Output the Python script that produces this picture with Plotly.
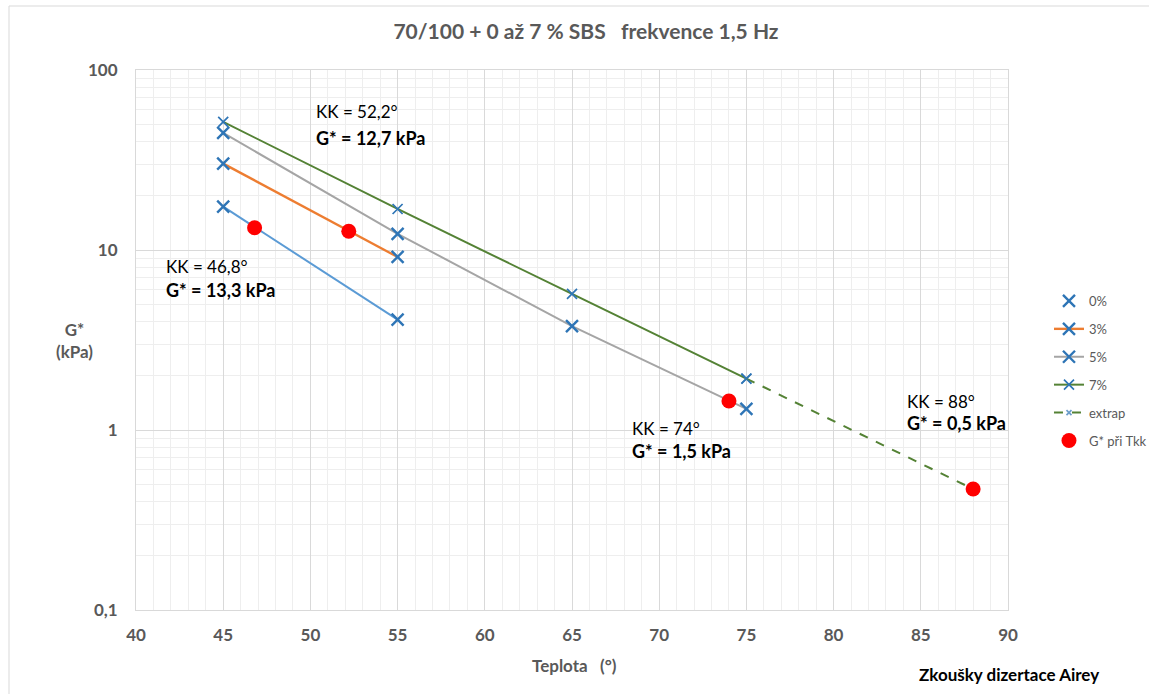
import plotly.graph_objects as go

# ---- data ----
t_0 = [45, 55]
g_0 = [17.4, 4.1]
t_3 = [45, 55]
g_3 = [30.2, 9.15]
t_5 = [45, 55, 65, 75]
g_5 = [44.7, 12.3, 3.78, 1.31]
t_7 = [45, 55, 65, 75]
g_7 = [51.5, 16.9, 5.7, 1.93]
t_ex = [75, 88]
g_ex = [1.93, 0.47]
t_kk = [46.8, 52.2, 74, 88]
g_kk = [13.3, 12.7, 1.45, 0.47]

x_ticks = [40, 45, 50, 55, 60, 65, 70, 75, 80, 85, 90]
y_tickvals = [0.1, 1, 10, 100]
y_ticktext = ["0,1", "1", "10", "100"]

notes = [
    ("KK = 52,2°", "G* = 12,7 kPa", 50.2, 1.767, 1.622),
    ("KK = 46,8°", "G* = 13,3 kPa", 41.6, 0.906, 0.778),
    ("KK = 74°", "G* = 1,5 kPa", 68.3, 0.011, -0.117),
    ("KK = 88°", "G* = 0,5 kPa", 84.1, 0.156, 0.039),
]

FONT = "Lato"
GRAY = "#595959"
MBLUE = "#2E75B6"

fig = go.Figure()

xm = dict(symbol="x-thin", size=12, line=dict(width=2.4, color=MBLUE), color=MBLUE)
xm_small = dict(symbol="x-thin", size=10, line=dict(width=1.7, color=MBLUE), color=MBLUE)

# 0% line (not in legend) + markers
fig.add_trace(go.Scatter(x=t_0, y=g_0, mode="lines", line=dict(color="#5B9BD5", width=2),
                         showlegend=False, hoverinfo="skip"))
fig.add_trace(go.Scatter(x=t_0, y=g_0, mode="markers", marker=xm, name="0%", legendgroup="a"))
fig.add_trace(go.Scatter(x=t_3, y=g_3, mode="lines+markers", marker=xm,
                         line=dict(color="#ED7D31", width=2.4), name="3%", legendgroup="b"))
fig.add_trace(go.Scatter(x=t_5, y=g_5, mode="lines+markers", marker=xm,
                         line=dict(color="#A5A5A5", width=2), name="5%", legendgroup="c"))
fig.add_trace(go.Scatter(x=t_7, y=g_7, mode="lines+markers", marker=xm_small,
                         line=dict(color="#548235", width=2), name="7%", legendgroup="d"))
fig.add_trace(go.Scatter(x=t_ex, y=g_ex, mode="lines+markers",
                         marker=dict(symbol="x-thin", size=[10, 0], line=dict(width=1.7, color=MBLUE), color=MBLUE),
                         line=dict(color="#548235", width=2, dash="dash"), name="extrap", legendgroup="e"))
fig.add_trace(go.Scatter(x=t_kk, y=g_kk, mode="markers",
                         marker=dict(symbol="circle", size=15, color="#FF0000"),
                         name="G* při Tkk", legendgroup="f"))

anns = []
for kk, gs, x, y1, y2 in notes:
    anns.append(dict(x=x, y=y1, xref="x", yref="y", text=kk, showarrow=False,
                     xanchor="left", yanchor="middle", font=dict(family=FONT, size=17, color="#000000")))
    anns.append(dict(x=x, y=y2, xref="x", yref="y", text="<b>" + gs + "</b>", showarrow=False,
                     xanchor="left", yanchor="middle", font=dict(family=FONT, size=18, color="#000000")))

anns.append(dict(x=-0.07, y=0.5, xref="paper", yref="paper", text="<b>G*<br>(kPa)</b>",
                 showarrow=False, xanchor="center", yanchor="middle",
                 font=dict(family=FONT, size=17, color=GRAY)))
anns.append(dict(x=0.503, y=-0.102, xref="paper", yref="paper",
                 text="<b>Teplota\u00a0\u00a0\u00a0(°)</b>", showarrow=False,
                 xanchor="center", yanchor="middle", font=dict(family=FONT, size=17, color=GRAY)))
anns.append(dict(x=1.001, y=-0.12, xref="paper", yref="paper",
                 text="<b>Zkoušky dizertace Airey</b>", showarrow=False,
                 xanchor="center", yanchor="middle", font=dict(family=FONT, size=17, color="#000000")))

fig.update_layout(
    width=1149, height=694,
    margin=dict(l=136, r=141, t=70, b=84, autoexpand=False),
    paper_bgcolor="white", plot_bgcolor="white",
    title=dict(text="<b>70/100 + 0 až 7 % SBS\u00a0\u00a0\u00a0frekvence 1,5 Hz</b>",
               x=0.51, xanchor="center", y=0.954, yanchor="middle",
               font=dict(family=FONT, size=21, color=GRAY)),
    font=dict(family=FONT, color=GRAY),
    legend=dict(x=1.047, y=0.6, xanchor="left", yanchor="top",
                font=dict(family=FONT, size=13, color=GRAY),
                tracegroupgap=8, bgcolor="rgba(0,0,0,0)"),
    annotations=anns,
    shapes=[dict(type="rect", xref="paper", yref="paper",
                 x0=(9 - 136) / 872, x1=1.3, y0=-0.5, y1=(610 - 6) / 540,
                 line=dict(color="#D9D9D9", width=1), layer="below")],
)

fig.update_xaxes(range=[40, 90], tickvals=x_ticks, showgrid=True, gridcolor="#D9D9D9",
                 gridwidth=1, zeroline=False, showline=True, linecolor="#D9D9D9", mirror=True,
                 ticks="", ticklabelstandoff=10,
                 tickfont=dict(family=FONT, size=17, color=GRAY, weight="bold"),
                 minor=dict(dtick=1, showgrid=True, gridcolor="#EEEEEE", gridwidth=1))
fig.update_yaxes(type="log", range=[-1, 2], tickvals=y_tickvals, ticktext=y_ticktext,
                 showgrid=True, gridcolor="#D9D9D9", gridwidth=1, zeroline=False,
                 showline=True, linecolor="#D9D9D9", mirror=True, ticks="",
                 ticklabelstandoff=14,
                 tickfont=dict(family=FONT, size=17, color=GRAY, weight="bold"),
                 minor=dict(dtick="D1", showgrid=True, gridcolor="#EEEEEE", gridwidth=1))

fig.write_html("out.html")
